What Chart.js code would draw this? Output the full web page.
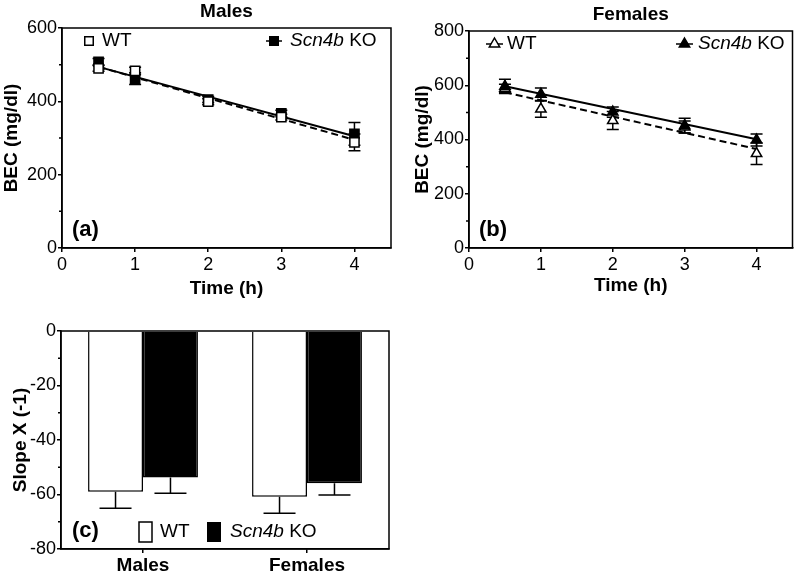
<!DOCTYPE html>
<html>
<head>
<meta charset="utf-8">
<script src="https://cdn.jsdelivr.net/npm/chart.js@4.4.0/dist/chart.umd.min.js"></script>
<style>
  body { margin: 0; background: #fff; }
  #wrap { position: relative; width: 800px; height: 574px; background: #fff; }
  canvas { position: absolute; }
</style>
</head>
<body>
<div id="wrap">
  <canvas id="chartA" width="400" height="300" style="left:0;top:0"></canvas>
  <canvas id="chartB" width="400" height="300" style="left:400px;top:0"></canvas>
  <canvas id="chartC" width="400" height="274" style="left:0;top:300px"></canvas>
</div>
<script>
const FONT = '"Liberation Sans", Arial, Helvetica, sans-serif';

// time points (h)
let times = [0.5, 1, 2, 3, 4];
let fitX = [0.5, 4];

// (a) males, BEC mg/dl
let maleWT = [490, 483, 399, 357, 288];
let maleWTerr = [8, 10, 8, 8, 23];
let maleKO = [508, 462, 405, 367, 311];
let maleKOerr = [9, 16, 8, 9, 31];
let maleWTfit = [494, 295];
let maleKOfit = [494, 305];

// (b) females, BEC mg/dl
let femaleWT = [589, 512, 470, 446, 348];
let femaleWTerr = [15, 30, 33, 22, 40];
let femaleKO = [596, 567, 501, 451, 398];
let femaleKOerr = [26, 23, 19, 27, 22];
let femaleWTfit = [574, 365];
let femaleKOfit = [596, 401];

// (c) slopes
let groups = ["Males", "Females"];
let slopeWT = [-59, -60.8];
let slopeWTerr = [6, 6.1];
let slopeKO = [-53.8, -55.9];
let slopeKOerr = [5.7, 4.3];

function pts(xs, ys) {
  return xs.map((x, i) => ({ x: x, y: ys[i] }));
}

function makeErrorBars(sets) {
  return {
    id: "errorBars",
    beforeDatasetsDraw(chart) {
      const ctx = chart.ctx;
      const ys = chart.scales.y;
      ctx.save();
      ctx.strokeStyle = "#000";
      ctx.lineWidth = 1.5;
      sets.forEach(set => {
        const meta = chart.getDatasetMeta(set.index);
        const vals = chart.data.datasets[set.index].data;
        meta.data.forEach((el, i) => {
          const v = typeof vals[i] === "object" ? vals[i].y : vals[i];
          const e = set.errors[i];
          const top = set.downOnly ? ys.getPixelForValue(v) : ys.getPixelForValue(v + e);
          const bot = ys.getPixelForValue(v - e);
          ctx.beginPath();
          ctx.moveTo(el.x, top);
          ctx.lineTo(el.x, bot);
          ctx.moveTo(el.x - set.cap, bot);
          ctx.lineTo(el.x + set.cap, bot);
          if (!set.downOnly) {
            ctx.moveTo(el.x - set.cap, top);
            ctx.lineTo(el.x + set.cap, top);
          }
          ctx.stroke();
        });
      });
      ctx.restore();
    }
  };
}

function makeDecor(minor, extras) {
  return {
    id: "decor",
    afterDraw(chart) {
      const ctx = chart.ctx;
      const a = chart.chartArea;
      const ys = chart.scales.y;
      ctx.save();
      ctx.strokeStyle = "#000";
      ctx.lineWidth = 1.5;
      ctx.strokeRect(a.left, a.top, a.right - a.left, a.bottom - a.top);
      ctx.beginPath();
      minor.forEach(v => {
        const p = ys.getPixelForValue(v);
        ctx.moveTo(a.left - 3, p);
        ctx.lineTo(a.left, p);
      });
      ctx.stroke();
      ctx.fillStyle = "#000";
      ctx.textBaseline = "middle";
      extras(ctx, chart);
      ctx.restore();
    }
  };
}

function text(ctx, s, x, y, font, align) {
  ctx.font = font;
  ctx.textAlign = align || "left";
  ctx.fillText(s, x, y);
  return ctx.measureText(s).width;
}

function koLabel(ctx, x, y) {
  const w = text(ctx, "Scn4b", x, y, "italic 19px " + FONT);
  ctx.font = "19px " + FONT;
  const sp = ctx.measureText(" ").width;
  text(ctx, "KO", x + w + sp, y, "19px " + FONT);
}

function square(ctx, x, y, s, filled) {
  ctx.fillStyle = filled ? "#000" : "#fff";
  ctx.fillRect(x - s / 2, y - s / 2, s, s);
  ctx.strokeRect(x - s / 2, y - s / 2, s, s);
  ctx.fillStyle = "#000";
}

function triangle(ctx, x, y, r, filled) {
  ctx.beginPath();
  ctx.moveTo(x, y - r);
  ctx.lineTo(x + r * 0.866, y + r * 0.5);
  ctx.lineTo(x - r * 0.866, y + r * 0.5);
  ctx.closePath();
  ctx.fillStyle = filled ? "#000" : "#fff";
  ctx.fill();
  ctx.stroke();
  ctx.fillStyle = "#000";
}

function segment(ctx, x1, x2, y) {
  ctx.beginPath();
  ctx.moveTo(x1, y);
  ctx.lineTo(x2, y);
  ctx.stroke();
}

function linScales(yMax, yWidth, yTitlePad, xTitlePad) {
  return {
    x: {
      type: "linear", min: 0, max: 4.5,
      afterFit: s => { s.height = 52; },
      ticks: { stepSize: 1, includeBounds: false, color: "#000", font: { family: FONT, size: 18 }, padding: 2, maxRotation: 0 },
      grid: { drawOnChartArea: false, tickLength: 4, color: "#000", lineWidth: 1.5 },
      border: { color: "#000", width: 1.5 },
      title: { display: true, text: "Time (h)", color: "#000", font: { family: FONT, size: 19, weight: "bold" }, padding: { top: 0, bottom: xTitlePad } }
    },
    y: {
      min: 0, max: yMax,
      afterFit: s => { s.width = yWidth; },
      ticks: { stepSize: 200, color: "#000", font: { family: FONT, size: 18 }, padding: 1 },
      grid: { drawOnChartArea: false, tickLength: 4, color: "#000", lineWidth: 1.5 },
      border: { color: "#000", width: 1.5 },
      title: { display: true, text: "BEC (mg/dl)", color: "#000", font: { family: FONT, size: 19, weight: "bold" }, padding: { top: yTitlePad, bottom: 0 } }
    }
  };
}

function markerSet(label, xs, ys, style, radius, filled, order) {
  return {
    label: label, data: pts(xs, ys), showLine: false, order: order,
    pointStyle: style, pointRadius: radius, pointBorderWidth: 1.5,
    pointBackgroundColor: filled ? "#000" : "#fff", pointBorderColor: "#000"
  };
}

function fitSet(label, ys, dashed, order) {
  return {
    label: label, data: pts(fitX, ys), showLine: true, order: order,
    borderColor: "#000", borderWidth: 2, borderDash: dashed ? [7, 4] : [],
    pointRadius: 0
  };
}

const baseOpts = {
  responsive: false, animation: false, devicePixelRatio: 1, events: [],
  plugins: { legend: { display: false }, title: { display: false }, tooltip: { enabled: false } }
};

// (a) Males
new Chart(document.getElementById("chartA"), {
  type: "scatter",
  data: {
    datasets: [
      markerSet("WT", times, maleWT, "rect", 6.5, false, 0),
      markerSet("Scn4b KO", times, maleKO, "rect", 6.5, true, 1),
      fitSet("WT fit", maleWTfit, true, 3),
      fitSet("KO fit", maleKOfit, false, 2)
    ]
  },
  options: Object.assign({}, baseOpts, {
    layout: { padding: { top: 28, right: 9, left: 0, bottom: 0 } },
    scales: linScales(600, 62, 0, 0)
  }),
  plugins: [
    makeErrorBars([
      { index: 0, errors: maleWTerr, cap: 6 },
      { index: 1, errors: maleKOerr, cap: 6 }
    ]),
    makeDecor([100, 300, 500], (ctx, chart) => {
      const a = chart.chartArea;
      text(ctx, "Males", (a.left + a.right) / 2, 12, "bold 19px " + FONT, "center");
      text(ctx, "(a)", 72, 230, "bold 22px " + FONT);
      square(ctx, 89, 41, 8.5, false);
      text(ctx, "WT", 102, 41, "19px " + FONT);
      segment(ctx, 266, 282, 41);
      square(ctx, 274, 41, 8.5, true);
      koLabel(ctx, 290, 41);
    })
  ]
});

// (b) Females
new Chart(document.getElementById("chartB"), {
  type: "scatter",
  data: {
    datasets: [
      markerSet("WT", times, femaleWT, "triangle", 6, false, 1),
      markerSet("Scn4b KO", times, femaleKO, "triangle", 6, true, 0),
      fitSet("WT fit", femaleWTfit, true, 3),
      fitSet("KO fit", femaleKOfit, false, 2)
    ]
  },
  options: Object.assign({}, baseOpts, {
    layout: { padding: { top: 31, right: 3, left: 0, bottom: 0 } },
    scales: linScales(800, 69, 11, 3)
  }),
  plugins: [
    makeErrorBars([
      { index: 0, errors: femaleWTerr, cap: 6 },
      { index: 1, errors: femaleKOerr, cap: 6 }
    ]),
    makeDecor([100, 300, 500, 700], (ctx, chart) => {
      const a = chart.chartArea;
      text(ctx, "Females", (a.left + a.right) / 2, 15, "bold 19px " + FONT, "center");
      text(ctx, "(b)", 79, 230, "bold 22px " + FONT);
      segment(ctx, 86, 103, 44);
      triangle(ctx, 94.5, 44, 6, false);
      text(ctx, "WT", 107, 44, "19px " + FONT);
      segment(ctx, 276, 293, 44);
      triangle(ctx, 284.5, 44, 6, true);
      koLabel(ctx, 298, 44);
    })
  ]
});

// (c) Slopes
new Chart(document.getElementById("chartC"), {
  type: "bar",
  data: {
    labels: groups,
    datasets: [
      { label: "WT", data: slopeWT, backgroundColor: "#fff", borderColor: "#000", borderWidth: 1.5, categoryPercentage: 0.67, barPercentage: 1 },
      { label: "Scn4b KO", data: slopeKO, backgroundColor: "#000", borderColor: "#000", borderWidth: 1.5, categoryPercentage: 0.67, barPercentage: 1 }
    ]
  },
  options: Object.assign({}, baseOpts, {
    layout: { padding: { top: 31, right: 11, left: 0, bottom: 0 } },
    scales: {
      x: {
        offset: true,
        afterFit: s => { s.height = 25; },
        ticks: { color: "#000", font: { family: FONT, size: 19, weight: "bold" }, padding: 1, maxRotation: 0 },
        grid: { offset: false, drawOnChartArea: false, tickLength: 4, color: "#000", lineWidth: 1.5 },
        border: { color: "#000", width: 1.5 }
      },
      y: {
        min: -80, max: 0,
        afterFit: s => { s.width = 61; },
        ticks: { stepSize: 20, color: "#000", font: { family: FONT, size: 18 }, padding: 1, callback: v => String(v) },
        grid: { drawOnChartArea: false, tickLength: 4, color: "#000", lineWidth: 1.5 },
        border: { color: "#000", width: 1.5 },
        title: { display: true, text: "Slope X (-1)", color: "#000", font: { family: FONT, size: 19, weight: "bold" }, padding: { top: 9, bottom: 0 } }
      }
    }
  }),
  plugins: [
    makeErrorBars([
      { index: 0, errors: slopeWTerr, cap: 16, downOnly: true },
      { index: 1, errors: slopeKOerr, cap: 16, downOnly: true }
    ]),
    makeDecor([-10, -30, -50, -70], (ctx) => {
      text(ctx, "(c)", 72, 231, "bold 22px " + FONT);
      square(ctx, 146, 232, 0, false);
      ctx.fillStyle = "#fff";
      ctx.fillRect(139, 222, 13, 20);
      ctx.strokeRect(139, 222, 13, 20);
      ctx.fillStyle = "#000";
      text(ctx, "WT", 160, 232, "19px " + FONT);
      ctx.fillRect(207, 222, 14, 20);
      koLabel(ctx, 230, 232);
    })
  ]
});
</script>
</body>
</html>
